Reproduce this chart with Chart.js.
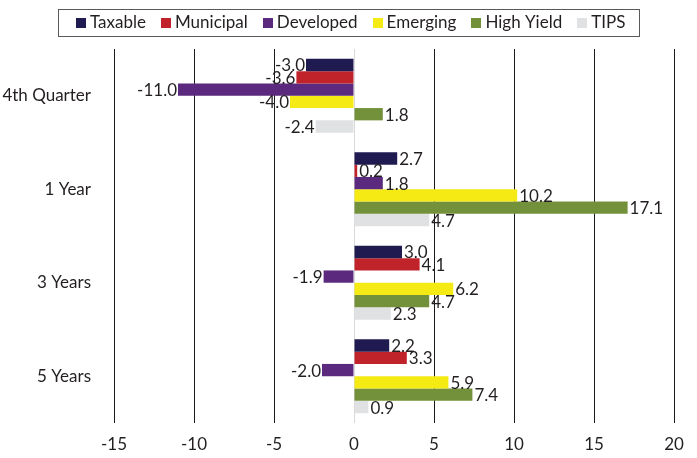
<!DOCTYPE html>
<html>
<head>
<meta charset="utf-8">
<script src="https://cdn.jsdelivr.net/npm/chart.js@4.4.1/dist/chart.umd.min.js"></script>
<style>
  html, body { margin: 0; padding: 0; background: #fff; }
  #wrap { width: 697px; height: 458px; }
</style>
</head>
<body>
<div id="wrap"><canvas id="returns-chart" width="697" height="458"></canvas></div>
<script>
const periods = ['4th Quarter', '1 Year', '3 Years', '5 Years'];
const seriesNames = ['Taxable', 'Municipal', 'Developed', 'Emerging', 'High Yield', 'TIPS'];
const taxable = [-3.0, 2.7, 3.0, 2.2];
const municipal = [-3.6, 0.2, 4.1, 3.3];
const developed = [-11.0, 1.8, -1.9, -2.0];
const emerging = [-4.0, 10.2, 6.2, 5.9];
const highYield = [1.8, 17.1, 4.7, 7.4];
const tips = [-2.4, 4.7, 2.3, 0.9];
const xTicks = [-15, -10, -5, 0, 5, 10, 15, 20];

const seriesValues = [taxable, municipal, developed, emerging, highYield, tips];
const seriesColors = ['#1f1a4f', '#c0232a', '#5b2a7e', '#f5ea14', '#72913a', '#e0e1e3'];

const fontFamily = 'Lato, "Open Sans", sans-serif';
const fontSize = 17;
const textColor = '#231f20';

// value labels at the end of each bar, left of negative bars
const barLabels = {
    id: 'barLabels',
    afterDatasetsDraw(chart) {
        const ctx = chart.ctx;
        ctx.save();
        ctx.font = fontSize + 'px ' + fontFamily;
        ctx.fillStyle = textColor;
        ctx.textBaseline = 'middle';
        chart.data.datasets.forEach((ds, di) => {
            chart.getDatasetMeta(di).data.forEach((bar, i) => {
                const v = ds.data[i];
                const txt = v.toFixed(1);
                if (v < 0) {
                    ctx.textAlign = 'right';
                    ctx.fillText(txt, bar.x - 1, bar.y + 1);
                } else {
                    ctx.textAlign = 'left';
                    ctx.fillText(txt, bar.x + 2, bar.y + 1);
                }
            });
        });
        ctx.restore();
    }
};

// boxed legend row across the top, drawn from the dataset labels and colours
const boxedLegend = {
    id: 'boxedLegend',
    afterDraw(chart) {
        const ctx = chart.ctx;
        ctx.save();
        ctx.font = fontSize + 'px ' + fontFamily;
        const sq = 10, sqGap = 4, itemGap = 15, padL = 18, padR = 14;
        const items = chart.data.datasets.map(ds => ({
            text: ds.label,
            color: ds.backgroundColor,
            w: sq + sqGap + ctx.measureText(ds.label).width
        }));
        const inner = items.reduce((s, it) => s + it.w, 0) + itemGap * (items.length - 1);
        const boxW = padL + inner + padR;
        const boxL = Math.round(chart.width / 2 - boxW / 2);
        const boxT = 9, boxH = 27;
        const midY = boxT + boxH / 2 + 0.5;

        ctx.strokeStyle = '#595959';
        ctx.lineWidth = 1;
        ctx.strokeRect(boxL + 0.5, boxT + 0.5, Math.round(boxW), boxH);

        let x = boxL + padL;
        ctx.textBaseline = 'middle';
        ctx.textAlign = 'left';
        items.forEach(it => {
            ctx.fillStyle = it.color;
            ctx.fillRect(Math.round(x), Math.round(midY - sq / 2), sq, sq);
            ctx.fillStyle = textColor;
            ctx.fillText(it.text, x + sq + sqGap, midY);
            x += it.w + itemGap;
        });
        ctx.restore();
    }
};

new Chart(document.getElementById('returns-chart'), {
    type: 'bar',
    data: {
        labels: periods,
        datasets: seriesNames.map((name, i) => ({
            label: name,
            data: seriesValues[i],
            backgroundColor: seriesColors[i],
            borderWidth: 0,
            categoryPercentage: 0.79,
            barPercentage: 1.0
        }))
    },
    options: {
        indexAxis: 'y',
        responsive: false,
        animation: false,
        layout: { padding: { left: 0, right: 23, top: 49, bottom: 0 } },
        scales: {
            x: {
                min: -15,
                max: 20,
                afterBuildTicks: axis => { axis.ticks = xTicks.map(v => ({ value: v })); },
                afterFit: axis => { axis.height = 35; },
                grid: {
                    color: c => (c.tick && c.tick.value === 0) ? '#d9d9d9' : '#1a1a1a',
                    lineWidth: 1,
                    drawTicks: false
                },
                border: { display: false },
                ticks: {
                    color: textColor,
                    font: { family: fontFamily, size: fontSize },
                    padding: 11,
                    maxRotation: 0
                }
            },
            y: {
                afterFit: axis => { axis.width = 114; },
                grid: { display: false },
                border: { display: false },
                ticks: {
                    color: textColor,
                    font: { family: fontFamily, size: fontSize },
                    padding: 15
                }
            }
        },
        plugins: {
            legend: { display: false },
            tooltip: { enabled: false }
        }
    },
    plugins: [barLabels, boxedLegend]
});
</script>
</body>
</html>
